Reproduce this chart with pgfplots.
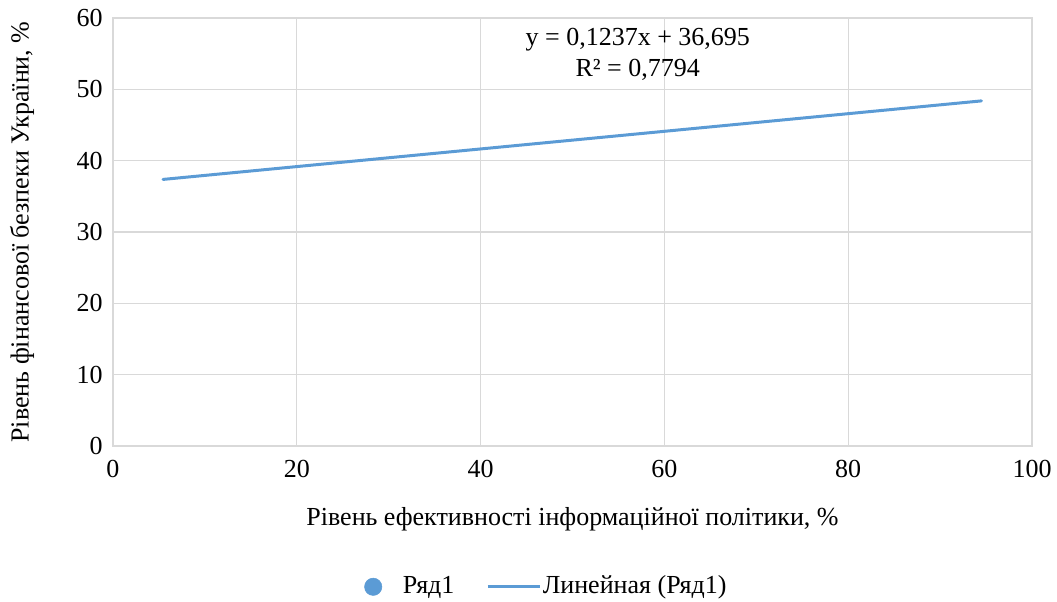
\documentclass[border=0pt]{standalone}
\usepackage{fontspec}
\setmainfont{Liberation Serif}
\usepackage{pgfplots}
\pgfplotsset{compat=1.18}
\definecolor{serblue}{HTML}{5B9BD5}
\definecolor{gridgray}{HTML}{D9D9D9}
\newcommand{\chartfont}{\fontsize{19.5}{23}\selectfont}
\pgfplotsset{
    dotlegend/.style={legend image code/.code={%
        \draw[##1] plot coordinates {(0pt,0pt)}; \path (-6.5pt,0pt) (20pt,0pt);}},
    linelegend/.style={legend image code/.code={%
        \draw[##1] (0pt,0pt) -- (39pt,0pt);}},
}
\begin{document}
\chartfont
\begin{tikzpicture}
\useasboundingbox (0,0) rectangle (792.75pt,451.5pt);
\begin{axis}[
    at={(84.75pt,117pt)}, anchor=south west,
    scale only axis,
    width=689.25pt, height=321pt,
    xmin=0, xmax=100, ymin=0, ymax=60,
    xtick={0,20,...,100}, ytick={0,10,...,60},
    grid=major,
    major grid style={gridgray, line width=1pt},
    axis line style={gridgray, line width=1pt},
    tick style={draw=none},
    /pgf/number format/assume math mode=true,
    ticklabel style={font=\chartfont},
    xticklabel style={yshift=-4pt},
    yticklabel style={xshift=-1pt},
    xlabel={Рівень ефективності інформаційної політики, \%},
    ylabel={Рівень фінансової безпеки України, \%},
    label style={font=\chartfont},
    xlabel style={at={(rel axis cs:0.5,-0.1706)}, anchor=center},
    ylabel style={at={(rel axis cs:-0.099,0.5)}, anchor=center},
    legend style={at={(0.472,-0.329)}, anchor=center, draw=none,
        legend columns=2, font=\chartfont,
        /tikz/every even column/.append style={column sep=22pt}},
    legend cell align=left,
]
\addlegendimage{only marks, mark=*, mark size=6.5pt, serblue, mark options={fill=serblue}, dotlegend}
\addlegendentry{Ряд1}
\addlegendimage{serblue, line width=2.25pt, linelegend}
\addlegendentry{\hspace{-1pt}Линейная (Ряд1)}
\addplot[serblue, line width=2.25pt, line cap=round, forget plot] coordinates {
    (5.44,37.37) (94.5,48.38)
};
\node[align=center, font=\chartfont, inner sep=0pt] at (axis cs:57.1,54.9)
    {y = 0,1237x + 36,695\\R² = 0,7794};
\end{axis}
\end{tikzpicture}
\end{document}
